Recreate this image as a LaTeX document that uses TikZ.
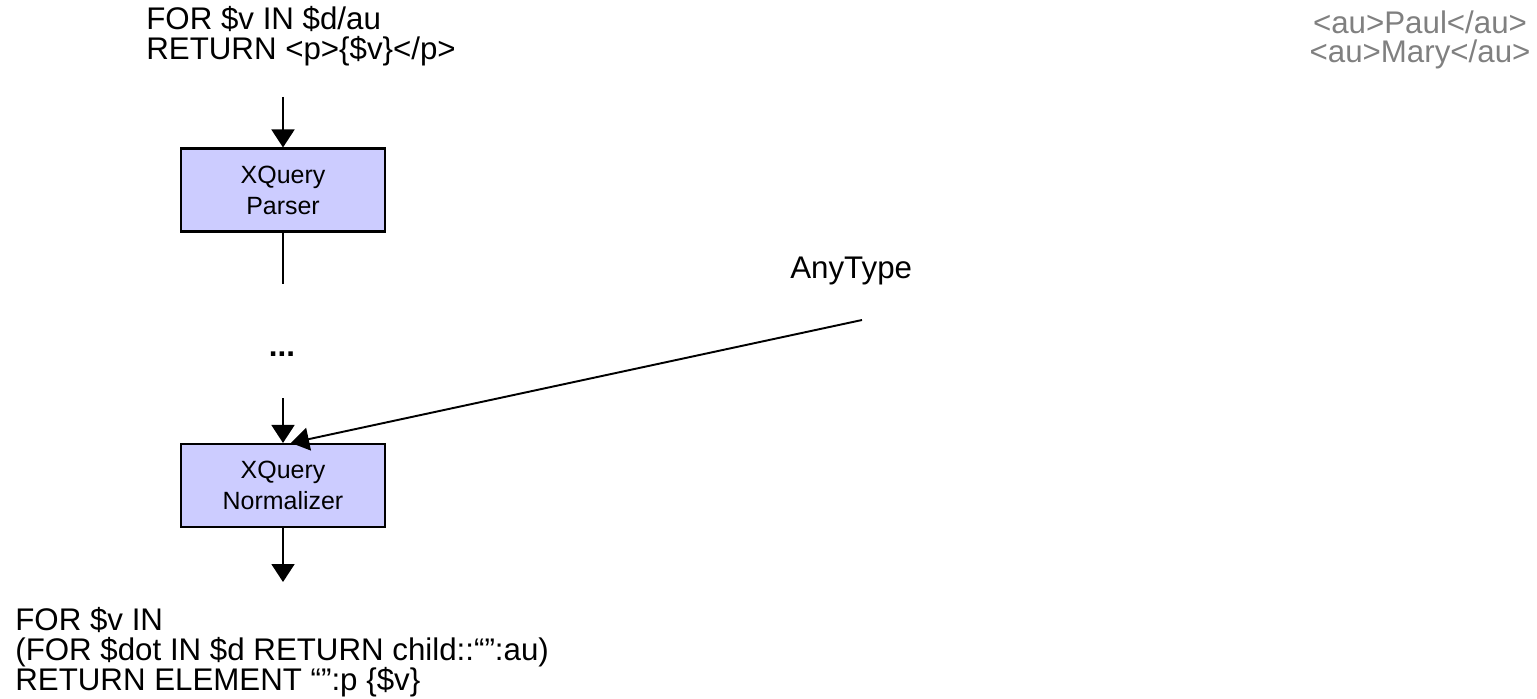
\documentclass[tikz,border=0pt]{standalone}
\usepackage{fontspec}
\setmainfont{Liberation Sans}
\usetikzlibrary{arrows.meta,positioning}
\definecolor{stagefill}{RGB}{204,204,255}
\definecolor{xmlgray}{RGB}{128,128,128}
\tikzset{
  flow/.style={-{Triangle[length=3.6mm,width=4.6mm]}, line width=1.1pt},
  plainline/.style={line width=1.1pt},
  stage/.style={draw, line width=1.2pt, fill=stagefill, minimum width=4.08cm,
                minimum height=1.66cm, align=center, inner sep=0pt,
                font=\fontsize{14.2}{17.6}\selectfont},
  code/.style={align=left, inner sep=0pt, font=\fontsize{17.8}{17}\selectfont},
}

\begin{document}
\begin{tikzpicture}[x=0.02cm, y=-0.02cm]
  \useasboundingbox (0,0) rectangle (1537,699);
  % query text and sample data
  \node[code, anchor=north west] (query) at (146,6)
    {FOR \$v IN \$d/au\\RETURN <p>\{\$v\}</p>};
  \node[code, align=center, text=xmlgray, anchor=north] (data) at (1420,10)
    {<au>Paul</au>\\<au>Mary</au>};
  % processing stages
  \node[stage] (parser) at (283,190) {XQuery\\Parser};
  \node[font=\fontsize{17.8}{17}\selectfont\bfseries, anchor=base] (dots) at (282,356) {...};
  \node[stage] (norm) at (283,485.5) {XQuery\\Normalizer};
  \node[code, anchor=base west] (anytype) at (790,278) {AnyType};
  \node[code, anchor=north west] (result) at (15,607)
    {FOR \$v IN\\(FOR \$dot IN \$d RETURN child::“”:au)\\RETURN ELEMENT “”:p \{\$v\}};
  % loose line ends
  \coordinate (qout) at (283,97);
  \coordinate (pend) at (283,284);
  \coordinate (nin) at (283,398);
  \coordinate (tsrc) at (862,320);
  \coordinate (rtip) at (283,582);
  % connectors
  \draw[flow] (qout) -- (parser);
  \draw[plainline] (parser) -- (pend);
  \draw[flow] (nin) -- (norm);
  \draw[flow] (tsrc) -- ([xshift=0.16cm]norm.north);
  \draw[flow] (norm) -- (rtip);
\end{tikzpicture}
\end{document}
